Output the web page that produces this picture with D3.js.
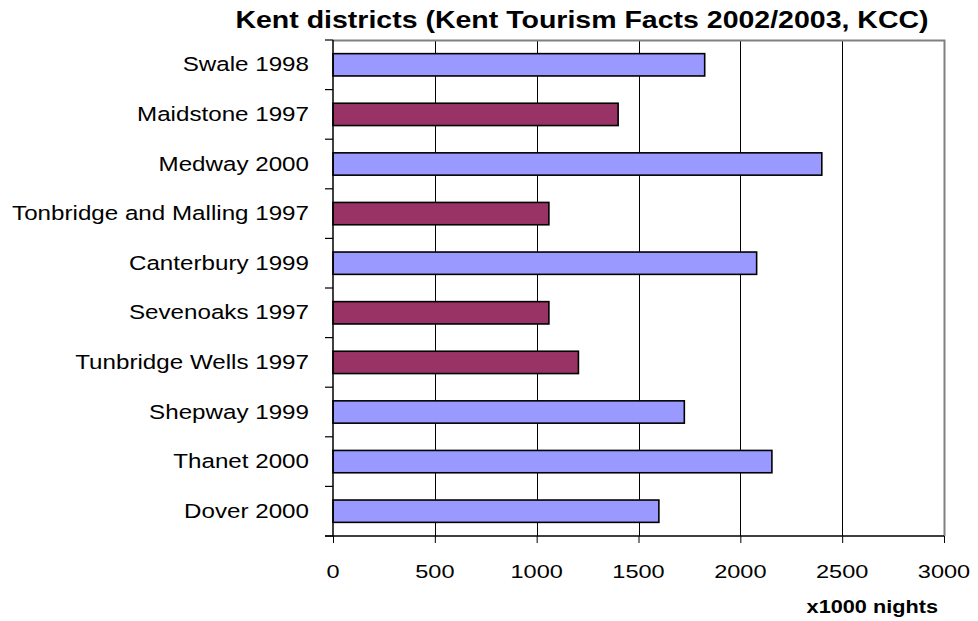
<!DOCTYPE html>
<html>
<head>
<meta charset="utf-8">
<script src="https://cdn.jsdelivr.net/npm/d3@7"></script>
<style>
  html, body { margin: 0; padding: 0; background: #fff; }
  svg { display: block; font-family: "Liberation Sans", Arial, sans-serif; }
</style>
</head>
<body>
<svg id="chart" width="978" height="621"></svg>
<script>
// Overnight stays per Kent district, thousands of nights
const districts = ["Swale", "Maidstone", "Medway", "Tonbridge and Malling", "Canterbury",
                   "Sevenoaks", "Tunbridge Wells", "Shepway", "Thanet", "Dover"];
const years = [1998, 1997, 2000, 1997, 1999, 1997, 1997, 1999, 2000, 2000];
const nights = [1825, 1400, 2400, 1060, 2080, 1060, 1205, 1725, 2155, 1600];
const xTicks = [0, 500, 1000, 1500, 2000, 2500, 3000];
const titleText = "Kent districts (Kent Tourism Facts 2002/2003, KCC)";
const xAxisTitle = "x1000 nights";

const labels = districts.map((d, i) => d + " " + years[i]);

const svg = d3.select("#chart");
const plot = { left: 333, right: 944, top: 40, bottom: 536 };
const stretch = 1.24; // horizontally widened lettering

const x = d3.scaleLinear().domain([0, 3000]).range([plot.left, plot.right]);
const y = d3.scaleBand().domain(labels).range([plot.top, plot.bottom])
  .paddingInner(0.55).paddingOuter(0.275);
const color = yr => yr === 1997 ? "#993366" : "#9999FF";

// stretched text helper
function stretchedText(g, tx, ty, str, opts) {
  const t = g.append("text")
    .attr("transform", `translate(${tx},${ty}) scale(${stretch},1)`)
    .attr("text-anchor", opts.anchor || "middle")
    .attr("dominant-baseline", "central")
    .attr("font-size", opts.size)
    .attr("font-weight", opts.weight || "normal")
    .attr("fill", "#000")
    .text(str);
  return t;
}

// vertical gridlines
svg.append("g").selectAll("line").data(xTicks.slice(1, -1)).join("line")
  .attr("x1", d => Math.round(x(d)) + 0.5).attr("x2", d => Math.round(x(d)) + 0.5)
  .attr("y1", plot.top).attr("y2", plot.bottom)
  .attr("stroke", "#000").attr("stroke-width", 1);

// top and right border of the plot
svg.append("path")
  .attr("d", `M${plot.left},${plot.top + 0.5}H${plot.right + 0.5}V${plot.bottom}`)
  .attr("fill", "none").attr("stroke", "#808080").attr("stroke-width", 2);

// bars
svg.append("g").selectAll("rect").data(nights).join("rect")
  .attr("x", x(0))
  .attr("y", (d, i) => y(labels[i]))
  .attr("width", d => x(d) - x(0))
  .attr("height", y.bandwidth())
  .attr("fill", (d, i) => color(years[i]))
  .attr("stroke", "#000").attr("stroke-width", 1.6);

// x axis
const xAxis = svg.append("g").attr("transform", `translate(0,${plot.bottom})`)
  .call(d3.axisBottom(x).tickValues(xTicks).tickSize(7).tickFormat(""));
xAxis.select(".domain").attr("stroke", "#000").attr("stroke-width", 1.5)
  .attr("d", `M${plot.left - 8},0H${plot.right}`);
xAxis.selectAll(".tick line").attr("stroke", "#000");

const xl = svg.append("g");
xTicks.forEach(v => stretchedText(xl, x(v), 572, d3.format("d")(v), { size: 19 }));

// y axis
const yAxis = svg.append("g").attr("transform", `translate(${plot.left},0)`);
yAxis.append("line").attr("x1", 0).attr("x2", 0)
  .attr("y1", plot.top).attr("y2", plot.bottom)
  .attr("stroke", "#000").attr("stroke-width", 1.5);
const boundaries = d3.range(labels.length + 1).map(i => plot.top + i * y.step());
yAxis.selectAll("line.tk").data(boundaries).join("line").attr("class", "tk")
  .attr("x1", -8).attr("x2", 0).attr("y1", d => d).attr("y2", d => d)
  .attr("stroke", "#000").attr("stroke-width", 1.2);

const yl = svg.append("g");
labels.forEach(l => stretchedText(yl, 309, y(l) + y.bandwidth() / 2, l, { size: 19.5, anchor: "end" }));

// titles
stretchedText(svg, 582, 20, titleText, { size: 23, weight: "bold" });
stretchedText(svg, 938, 607, xAxisTitle, { size: 17.5, weight: "bold", anchor: "end" });
</script>
</body>
</html>
